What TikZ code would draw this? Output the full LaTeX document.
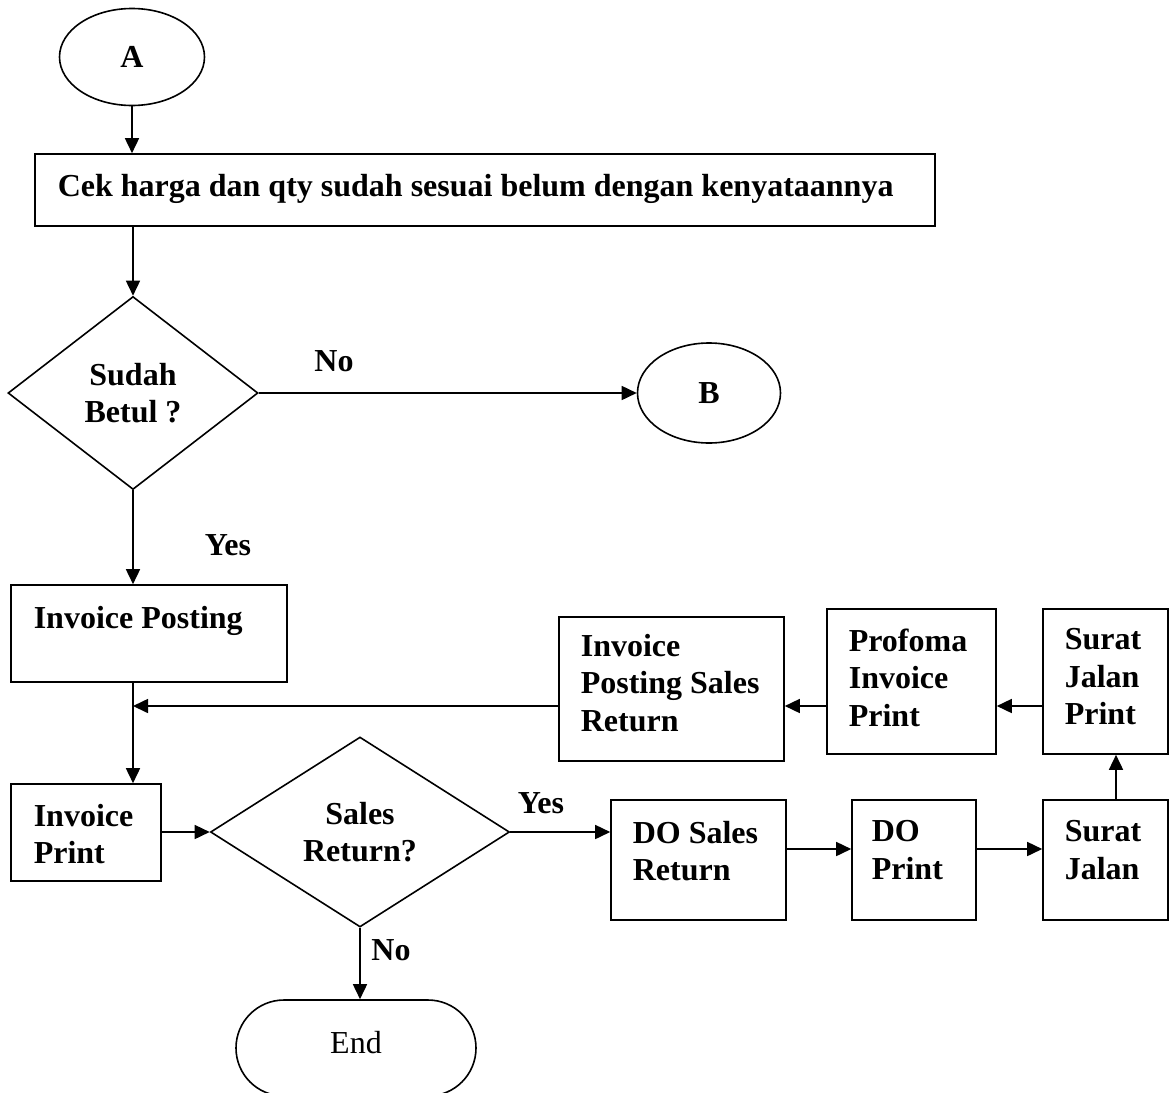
\documentclass[tikz,border=0pt]{standalone}
\usepackage{fontspec}
\setmainfont{Liberation Serif}
\usetikzlibrary{shapes.geometric,arrows.meta,calc}
\begin{document}
\begin{tikzpicture}[x=1pt,y=-1pt,
  line width=1.6pt,
  >={Triangle[length=15pt,width=14pt]},
  fnt/.style={font=\fontsize{32}{37.5}\selectfont\bfseries},
  boxn/.style={draw,rectangle,inner sep=0pt},
  txt/.style={fnt,align=left,anchor=north west,inner sep=0pt},
  conn/.style={draw,ellipse,inner sep=0pt,fnt},
  dec/.style={draw,diamond,inner sep=0pt,fnt,align=center},
  lbl/.style={fnt,anchor=base,inner sep=0pt}
]
\useasboundingbox (0,0) rectangle (1172,1092);

% connectors (start / off-page)
\node[conn,minimum width=145,minimum height=97] (A) at (132,57) {A};
\node[conn,minimum width=143,minimum height=100] (B) at (709,393) {B};

% process boxes
\node[boxn,minimum width=900,minimum height=72] (cek) at (485,190) {};
\node[txt] (tcek) at (57,173) {Cek harga dan qty sudah sesuai belum dengan kenyataannya};

\node[boxn,minimum width=276,minimum height=97] (post) at (149,633.5) {};
\node[txt] (tpost) at (33,605) {Invoice Posting};

\node[boxn,minimum width=150,minimum height=97] (print) at (86,832.5) {};
\node[txt] (tprint) at (33,803) {Invoice\\Print};

\node[boxn,minimum width=225,minimum height=144] (ipsr) at (671.5,689) {};
\node[txt] (tipsr) at (580,633) {Invoice\\Posting Sales\\Return};

\node[boxn,minimum width=169,minimum height=145] (prof) at (911.5,681.5) {};
\node[txt] (tprof) at (848,628) {Profoma\\Invoice\\Print};

\node[boxn,minimum width=125,minimum height=145] (sjp) at (1105.5,681.5) {};
\node[txt] (tsjp) at (1064,628) {Surat\\Jalan\\Print};

\node[boxn,minimum width=175,minimum height=120] (dosr) at (698.5,860) {};
\node[txt] (tdosr) at (632,820) {DO Sales\\Return};

\node[boxn,minimum width=124,minimum height=120] (dop) at (914,860) {};
\node[txt] (tdop) at (871,820) {DO\\Print};

\node[boxn,minimum width=125,minimum height=120] (sj) at (1105.5,860) {};
\node[txt] (tsj) at (1064,820) {Surat\\Jalan};

% decisions
\node[dec,minimum width=250,minimum height=193] (sudah) at (133,393) {Sudah\\Betul ?};
\node[dec,minimum width=299,minimum height=190] (sales) at (360,832) {Sales\\Return?};

% terminator
\node[draw,rectangle,rounded corners=48pt,minimum width=240,minimum height=96,
      inner sep=0pt,font=\fontsize{32}{37.5}\selectfont,text depth=12pt]
      (endn) at (356,1048) {End};

% branch labels
\node[lbl] (lno1) at (334,371) {No};
\node[lbl] (lyes1) at (228,555) {Yes};
\node[lbl] (lyes2) at (541,813) {Yes};
\node[lbl] (lno2) at (391,960) {No};

% helper coordinates for off-centre arrow rows/columns
\coordinate (rowR) at (0,706);
\coordinate (rowD) at (0,849);
\coordinate (colS) at (1116,0);

% flow
\draw[->] (A.south) -- (A.south |- cek.north);
\draw[->] (cek.south -| sudah.north) -- (sudah.north);
\draw[->] (sudah.east) -- (B.west);
\draw[->] (sudah.south) -- (sudah.south |- post.north);
\draw[->] (post.south -| sudah.south) -- (print.north -| sudah.south);
\draw[->] (print.east |- sales.west) -- (sales.west);
\draw[->] (sales.east) -- (sales.east -| dosr.west);
\draw[->] (dosr.east |- rowD) -- (dop.west |- rowD);
\draw[->] (dop.east |- rowD) -- (sj.west |- rowD);
\draw[->] (sj.north -| colS) -- (sjp.south -| colS);
\draw[->] (sjp.west |- rowR) -- (prof.east |- rowR);
\draw[->] (prof.west |- rowR) -- (ipsr.east |- rowR);
\draw[->] (ipsr.west |- rowR) -- (sudah.south |- rowR);
\draw[->] (sales.south) -- (sales.south |- endn.north);
\end{tikzpicture}
\end{document}
